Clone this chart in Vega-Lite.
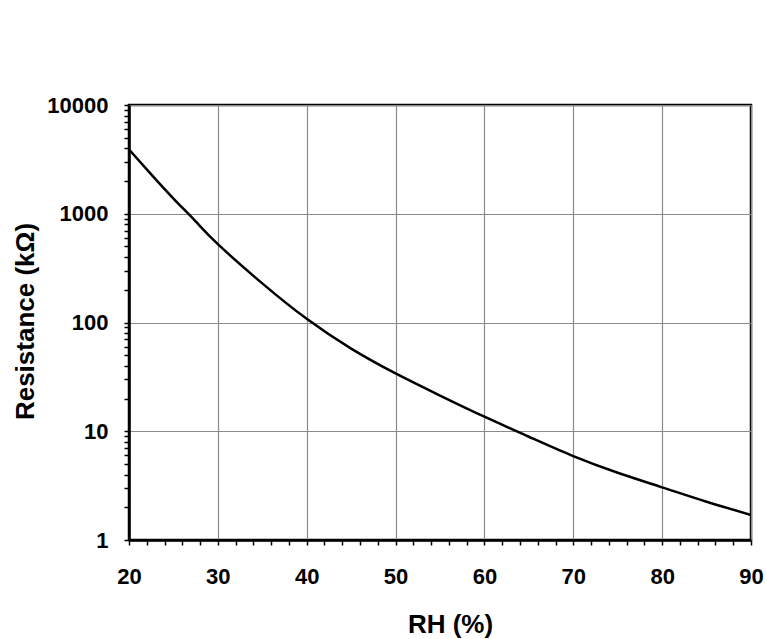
{
  "$schema": "https://vega.github.io/schema/vega-lite/v6.json",
  "width": 622,
  "height": 435,
  "autosize": "none",
  "padding": {"left": 129, "top": 105, "right": 16, "bottom": 99},
  "background": "white",
  "config": {
    "view": {"stroke": "black", "strokeWidth": 2.5},
    "font": "Liberation Sans"
  },
  "data": {
    "values": [
      {"rh": 20, "r": 3900},
      {"rh": 22.5, "r": 2300},
      {"rh": 25, "r": 1380},
      {"rh": 27.5, "r": 850},
      {"rh": 30, "r": 525},
      {"rh": 35, "r": 229},
      {"rh": 40, "r": 108},
      {"rh": 45, "r": 57.5},
      {"rh": 50, "r": 34},
      {"rh": 55, "r": 21.3},
      {"rh": 60, "r": 13.6},
      {"rh": 65, "r": 8.9},
      {"rh": 70, "r": 5.9},
      {"rh": 75, "r": 4.15},
      {"rh": 80, "r": 3.05},
      {"rh": 85, "r": 2.25},
      {"rh": 90, "r": 1.7}
    ]
  },
  "mark": {"type": "line", "color": "black", "strokeWidth": 2.5, "interpolate": "natural", "clip": true},
  "encoding": {
    "x": {
      "field": "rh",
      "type": "quantitative",
      "scale": {"domain": [20, 90], "nice": false, "zero": false},
      "axis": {
        "title": "RH (%)",
        "values": [20,22,24,26,28,30,32,34,36,38,40,42,44,46,48,50,52,54,56,58,60,62,64,66,68,70,72,74,76,78,80,82,84,86,88,90],
        "labelExpr": "datum.value % 10 == 0 ? format(datum.value, 'd') : ''",
        "labelOverlap": false,
        "labelFlush": false,
        "labelFont": "Liberation Sans",
        "labelFontWeight": "bold",
        "labelFontSize": 22,
        "labelColor": "black",
        "labelPadding": 21,
        "tickSize": 5,
        "tickColor": "black",
        "tickWidth": 1.5,
        "domainColor": "black",
        "domainWidth": 2.5,
        "grid": true,
        "gridColor": "#8a8a8a",
        "gridWidth": 1.2,
        "gridOpacity": {"condition": {"test": "datum.value % 10 == 0", "value": 1}, "value": 0},
        "titleFont": "Liberation Sans",
        "titleFontWeight": "bold",
        "titleFontSize": 26,
        "titleColor": "black",
        "titleBaseline": "alphabetic",
        "titleAlign": "center",
        "titleX": 321,
        "titleY": 92
      }
    },
    "y": {
      "field": "r",
      "type": "quantitative",
      "scale": {"type": "log", "domain": [1, 10000], "nice": false},
      "axis": {
        "title": "Resistance (kΩ)",
        "values": [1,2,3,4,5,6,7,8,9,10,20,30,40,50,60,70,80,90,100,200,300,400,500,600,700,800,900,1000,2000,3000,4000,5000,6000,7000,8000,9000,10000],
        "labelExpr": "abs(log(datum.value)/LN10 - round(log(datum.value)/LN10)) < 1e-6 ? format(datum.value, 'd') : ''",
        "labelOverlap": false,
        "labelFlush": false,
        "labelFont": "Liberation Sans",
        "labelFontWeight": "bold",
        "labelFontSize": 22,
        "labelColor": "black",
        "labelPadding": 16,
        "tickSize": 5,
        "tickColor": "black",
        "tickWidth": 1.5,
        "domainColor": "black",
        "domainWidth": 2.5,
        "grid": true,
        "gridColor": "#8a8a8a",
        "gridWidth": 1.2,
        "gridOpacity": {"condition": {"test": "abs(log(datum.value)/LN10 - round(log(datum.value)/LN10)) < 1e-6", "value": 1}, "value": 0},
        "titleFont": "Liberation Sans",
        "titleFontWeight": "bold",
        "titleFontSize": 26,
        "titleColor": "black",
        "titleAngle": -90,
        "titleBaseline": "alphabetic",
        "titleAlign": "center",
        "titleX": -96,
        "titleY": 216
      }
    }
  }
}
